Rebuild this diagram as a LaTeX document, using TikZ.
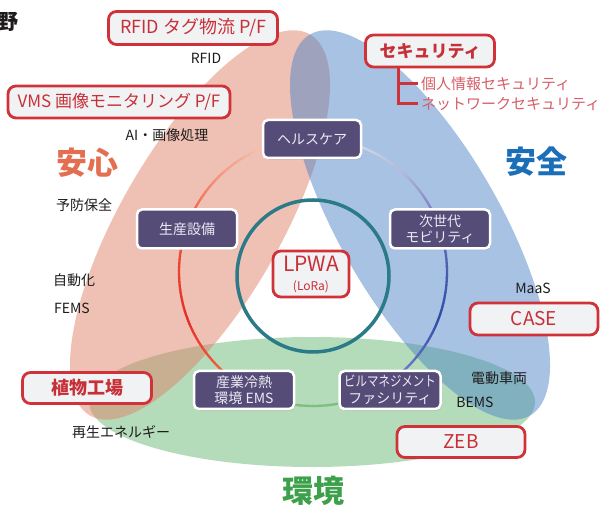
\documentclass[tikz,border=0pt]{standalone}
\usepackage{fontspec}
\setmainfont{Noto Sans CJK JP}
\usepackage{graphicx}
\usetikzlibrary{shadows}
\definecolor{salmonE}{RGB}{223,131,105}
\definecolor{blueE}{RGB}{79,133,197}
\definecolor{greenE}{RGB}{180,220,186}
\definecolor{boxpurple}{RGB}{85,77,120}
\definecolor{boxtext}{RGB}{236,234,244}
\definecolor{redline}{RGB}{208,50,58}
\definecolor{redfill}{RGB}{241,242,244}
\definecolor{redtext}{RGB}{200,48,56}
\definecolor{pinktext}{RGB}{214,92,102}
\definecolor{lpwateal}{RGB}{42,122,136}
\definecolor{labelblack}{RGB}{30,27,28}
\definecolor{anshin}{RGB}{228,110,80}
\definecolor{anzen}{RGB}{27,110,184}
\definecolor{kankyo}{RGB}{61,160,74}
\definecolor{rW1}{RGB}{248,238,234}
\definecolor{rS}{RGB}{244,160,138}
\definecolor{rO}{RGB}{238,84,64}
\definecolor{rR}{RGB}{229,46,40}
\definecolor{rO2}{RGB}{242,106,74}
\definecolor{rW2}{RGB}{240,240,248}
\definecolor{rL}{RGB}{184,188,218}
\definecolor{rP}{RGB}{100,108,184}
\definecolor{rB}{RGB}{46,78,166}
\definecolor{rB2}{RGB}{124,132,206}
\definecolor{rG}{RGB}{125,191,128}
\newcommand\ringarc[4]{%
  \foreach \i in {0,...,23}{%
    \pgfmathsetmacro\aS{#1+(#2-#1)*\i/24}%
    \pgfmathsetmacro\aE{#1+(#2-#1)*(\i+1.2)/24}%
    \pgfmathtruncatemacro\pc{100-100*\i/23}%
    \draw[line width=2.3pt, draw=#3!\pc!#4] ([shift={(\aS:134)}]RC) arc[start angle=\aS, end angle=\aE, radius=134];
  }%
}
\tikzset{
  purplebox/.style={draw=white, line width=2.5pt, fill=boxpurple, rounded corners=5pt,
    text=boxtext, font=\fontsize{14}{16.5}\selectfont, align=center, inner sep=0pt,
    drop shadow={opacity=0.35, shadow xshift=1.2pt, shadow yshift=-1.6pt}},
  redbox/.style={draw=redline, line width=2.8pt, fill=redfill, rounded corners=8pt,
    text=redtext, inner sep=0pt, align=center},
  lbl/.style={text=labelblack, font=\fontsize{14}{16}\selectfont, inner sep=0pt},
  pinklbl/.style={text=pinktext, font=\fontsize{15}{17}\selectfont, inner sep=0pt, anchor=west},
  bigl/.style={font=\bfseries\fontsize{31}{33}\selectfont, inner sep=0pt},
  bracket/.style={draw=redline, line width=3pt},
}
\begin{document}
\begin{tikzpicture}[x=1pt,y=1pt]
\useasboundingbox (0,0) rectangle (601,505);
% ellipses
\fill[greenE] (312,103) ellipse[x radius=223, y radius=65];
\fill[salmonE, opacity=0.5, rotate around={60:(200,280)}] (200,280) ellipse[x radius=220, y radius=80];
\fill[blueE, opacity=0.5, rotate around={-60:(420,280)}] (420,280) ellipse[x radius=220, y radius=80];
% ring
\coordinate (RC) at (313,233);
\ringarc{90}{130}{rW1}{rS}
\ringarc{130}{162}{rS}{rO}
\ringarc{162}{200}{rO}{rR}
\ringarc{200}{234}{rR}{rO2}
\ringarc{234}{306}{rG}{rG}
\ringarc{306}{340}{rB2}{rB}
\ringarc{340}{378}{rB}{rP}
\ringarc{18}{50}{rP}{rL}
\ringarc{50}{90}{rL}{rW2}
% LPWA circle
\node[circle, draw=lpwateal, line width=3.5pt, minimum size=152pt, inner sep=0pt] (lpc) at (313,229) {};
\node[redbox, minimum width=76pt, minimum height=46pt] (lpwa) at (311,231)
  {\fontsize{21}{21}\selectfont LPWA\\[7pt]\fontsize{12}{13}\selectfont (LoRa)};
% purple nodes
\node[purplebox, minimum width=98pt, minimum height=38pt] (health) at (312,366) {ヘルスケア};
\node[purplebox, minimum width=100pt, minimum height=39pt] (seisan) at (187,276) {生産設備};
\node[purplebox, minimum width=100pt, minimum height=39pt] (mobi) at (440,276) {次世代\\モビリティ};
\node[purplebox, minimum width=100pt, minimum height=38pt] (sangyo) at (244,115) {産業冷熱\\環境 EMS};
\node[purplebox, minimum width=101pt, minimum height=38pt] (bill) at (390,115) {\scalebox{0.82}[1]{ビルマネジメント}\\ファシリティ};
% red boxes
\node[redbox, minimum width=169pt, minimum height=33pt, font=\fontsize{18}{20}\selectfont] (rfid) at (193,477) {RFID タグ物流 P/F};
\node[redbox, minimum width=222pt, minimum height=32pt, font=\fontsize{17}{19}\selectfont] (vms) at (119,403) {VMS 画像モニタリング P/F};
\node[redbox, minimum width=129pt, minimum height=32pt, font=\bfseries\fontsize{17}{19}\selectfont] (sec) at (430,454) {セキュリティ};
\node[redbox, minimum width=128pt, minimum height=32pt, font=\fontsize{19}{21}\selectfont] (case) at (534,186) {CASE};
\node[redbox, minimum width=129pt, minimum height=31pt, font=\bfseries\fontsize{18}{20}\selectfont] (plant) at (87,117) {植物工場};
\node[redbox, minimum width=128pt, minimum height=31pt, font=\fontsize{19}{21}\selectfont] (zeb) at (461,63) {ZEB};
% security sub-items
\node[pinklbl] (kojin) at (421,421) {個人情報セキュリティ};
\node[pinklbl] (net) at (421,401) {ネットワークセキュリティ};
\draw[bracket] ([xshift=-32pt]sec.south) |- ([xshift=-3pt]kojin.west);
\draw[bracket] ([xshift=-32pt]sec.south) |- ([xshift=-3pt]net.west);
% labels
\node[lbl] (l1) at (206,447) {RFID};
\node[lbl] (l2) at (167,370) {AI・画像処理};
\node[lbl] (l3) at (84,300) {予防保全};
\node[lbl] (l4) at (74,225) {自動化};
\node[lbl] (l5) at (72,197) {FEMS};
\node[lbl] (l6) at (533,217) {MaaS};
\node[lbl] (l7) at (499,127) {電動車両};
\node[lbl] (l8) at (475,103) {BEMS};
\node[lbl] (l9) at (121,73) {再生エネルギー};
% big labels
\node[bigl, text=anshin] (anshin) at (87,342) {安心};
\node[bigl, text=anzen] (anzen) at (536,343) {安全};
\node[bigl, text=kankyo] (kankyo) at (313,14) {環境};
\node[anchor=east, font=\bfseries\fontsize{21}{21}\selectfont, inner sep=0pt, text=labelblack] (ya) at (19,483) {野};
\end{tikzpicture}
\end{document}
